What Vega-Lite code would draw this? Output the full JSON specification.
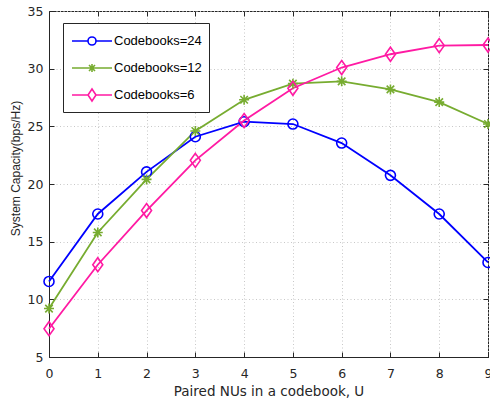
{
  "$schema": "https://vega.github.io/schema/vega-lite/v6.json",
  "width": 439,
  "height": 346,
  "autosize": {"type": "none"},
  "padding": {"left": 49, "top": 11, "right": 2, "bottom": 46},
  "background": "white",
  "config": {
    "view": {"stroke": "#262626", "strokeWidth": 1},
    "font": "Liberation Sans",
    "axis": {
      "labelFont": "DejaVu Sans",
      "titleFont": "DejaVu Sans",
      "labelFontSize": 12.5,
      "titleFontSize": 13.5,
      "titleFontWeight": "normal",
      "labelColor": "#262626",
      "titleColor": "#262626",
      "domainColor": "#262626",
      "tickColor": "#262626",
      "gridColor": "#c8c8c8",
      "gridDash": [1, 2.5],
      "gridWidth": 1
    },
    "legend": {
      "orient": "none",
      "padding": 7,
      "strokeColor": "#262626",
      "fillColor": "white",
      "symbolSize": 400,
      "symbolOffset": 11,
      "labelOffset": 11,
      "rowPadding": 8,
      "labelFont": "Liberation Sans",
      "labelFontSize": 13,
      "labelColor": "#000000",
      "symbolStrokeWidth": 1.6,
      "symbolOpacity": 1
    }
  },
  "data": {
    "values": [
      {"U": 0, "cap": 11.55, "series": "Codebooks=24"},
      {"U": 1, "cap": 17.4, "series": "Codebooks=24"},
      {"U": 2, "cap": 21.05, "series": "Codebooks=24"},
      {"U": 3, "cap": 24.1, "series": "Codebooks=24"},
      {"U": 4, "cap": 25.4, "series": "Codebooks=24"},
      {"U": 5, "cap": 25.2, "series": "Codebooks=24"},
      {"U": 6, "cap": 23.55, "series": "Codebooks=24"},
      {"U": 7, "cap": 20.75, "series": "Codebooks=24"},
      {"U": 8, "cap": 17.4, "series": "Codebooks=24"},
      {"U": 9, "cap": 13.2, "series": "Codebooks=24"},
      {"U": 0, "cap": 9.2, "series": "Codebooks=12"},
      {"U": 1, "cap": 15.8, "series": "Codebooks=12"},
      {"U": 2, "cap": 20.4, "series": "Codebooks=12"},
      {"U": 3, "cap": 24.6, "series": "Codebooks=12"},
      {"U": 4, "cap": 27.3, "series": "Codebooks=12"},
      {"U": 5, "cap": 28.7, "series": "Codebooks=12"},
      {"U": 6, "cap": 28.9, "series": "Codebooks=12"},
      {"U": 7, "cap": 28.2, "series": "Codebooks=12"},
      {"U": 8, "cap": 27.1, "series": "Codebooks=12"},
      {"U": 9, "cap": 25.2, "series": "Codebooks=12"},
      {"U": 0, "cap": 7.45, "series": "Codebooks=6"},
      {"U": 1, "cap": 13.0, "series": "Codebooks=6"},
      {"U": 2, "cap": 17.7, "series": "Codebooks=6"},
      {"U": 3, "cap": 22.05, "series": "Codebooks=6"},
      {"U": 4, "cap": 25.5, "series": "Codebooks=6"},
      {"U": 5, "cap": 28.3, "series": "Codebooks=6"},
      {"U": 6, "cap": 30.1, "series": "Codebooks=6"},
      {"U": 7, "cap": 31.25, "series": "Codebooks=6"},
      {"U": 8, "cap": 32.0, "series": "Codebooks=6"},
      {"U": 9, "cap": 32.05, "series": "Codebooks=6"}
    ]
  },
  "layer": [
    {
      "mark": {"type": "line", "strokeWidth": 1.8, "clip": false},
      "encoding": {
        "x": {
          "field": "U", "type": "quantitative",
          "scale": {"domain": [0, 9], "nice": false},
          "axis": {"orient": "bottom", "values": [0,1,2,3,4,5,6,7,8,9], "title": "Paired NUs in a codebook, U", "tickSize": -5, "labelPadding": 15, "titlePadding": 5, "grid": true, "labelFlush": false}
        },
        "y": {
          "field": "cap", "type": "quantitative",
          "scale": {"domain": [5, 35], "nice": false},
          "axis": {"orient": "left", "values": [5,10,15,20,25,30,35], "title": "System Capacity(bps/Hz)", "titleFont": "Liberation Sans", "titleFontSize": 12, "titleY": 157, "tickSize": -5, "labelPadding": 11, "titlePadding": 5, "grid": true}
        },
        "stroke": {
          "field": "series", "type": "nominal",
          "scale": {"domain": ["Codebooks=24", "Codebooks=12", "Codebooks=6"], "range": ["#0000ff", "#77ac30", "#ff1aa3"]},
          "legend": {"title": null, "orient": "none", "legendX": 14, "legendY": 12, "symbolOpacity": 1}
        }
      }
    },
    {
      "transform": [{"filter": "datum.series === 'Codebooks=24'"}],
      "mark": {"type": "point", "shape": "circle", "filled": false, "strokeWidth": 1.6, "size": 100, "opacity": 1, "clip": false},
      "encoding": {
        "x": {
          "field": "U", "type": "quantitative",
          "scale": {"domain": [0, 9], "nice": false},
          "axis": {"orient": "top", "values": [0,1,2,3,4,5,6,7,8,9], "title": null, "labels": false, "domain": false, "grid": false, "tickSize": -5}
        },
        "y": {
          "field": "cap", "type": "quantitative",
          "scale": {"domain": [5, 35], "nice": false},
          "axis": {"orient": "right", "values": [5,10,15,20,25,30,35], "title": null, "labels": false, "domain": false, "grid": false, "tickSize": -5}
        },
        "stroke": {"field": "series", "type": "nominal", "legend": {"title": null, "orient": "none", "legendX": 14, "legendY": 12, "symbolOpacity": 1}}
      }
    },
    {
      "transform": [{"filter": "datum.series === 'Codebooks=12'"}],
      "mark": {"type": "point", "shape": "M-1,0H1M0,-1V1M-0.75,-0.75L0.75,0.75M-0.75,0.75L0.75,-0.75", "filled": false, "strokeWidth": 1.6, "size": 100, "opacity": 1, "clip": false},
      "encoding": {
        "x": {"field": "U", "type": "quantitative", "scale": {"domain": [0, 9], "nice": false}, "axis": null},
        "y": {"field": "cap", "type": "quantitative", "scale": {"domain": [5, 35], "nice": false}, "axis": null},
        "stroke": {"field": "series", "type": "nominal", "legend": {"title": null, "orient": "none", "legendX": 14, "legendY": 12, "symbolOpacity": 1}}
      }
    },
    {
      "transform": [{"filter": "datum.series === 'Codebooks=6'"}],
      "mark": {"type": "point", "shape": "M0,-1.4L1,0L0,1.4L-1,0Z", "filled": false, "strokeWidth": 1.6, "size": 100, "opacity": 1, "clip": false},
      "encoding": {
        "x": {"field": "U", "type": "quantitative", "scale": {"domain": [0, 9], "nice": false}, "axis": null},
        "y": {"field": "cap", "type": "quantitative", "scale": {"domain": [5, 35], "nice": false}, "axis": null},
        "stroke": {"field": "series", "type": "nominal", "legend": {"title": null, "orient": "none", "legendX": 14, "legendY": 12, "symbolOpacity": 1}}
      }
    },
    {
      "mark": {"type": "point", "filled": false, "strokeWidth": 1.6, "size": 400, "opacity": 0, "clip": false},
      "encoding": {
        "x": {"field": "U", "type": "quantitative", "scale": {"domain": [0, 9], "nice": false}, "axis": null},
        "y": {"field": "cap", "type": "quantitative", "scale": {"domain": [5, 35], "nice": false}, "axis": null},
        "stroke": {"field": "series", "type": "nominal", "legend": {"title": null, "orient": "none", "legendX": 14, "legendY": 12, "symbolOpacity": 1}},
        "shape": {
          "field": "series", "type": "nominal",
          "scale": {"domain": ["Codebooks=24", "Codebooks=12", "Codebooks=6"], "range": ["M-2,0H-0.4M0.4,0H2M0.4,0A0.4,0.4 0 1,1 -0.4,0A0.4,0.4 0 1,1 0.4,0", "M-2,0H2M0,-0.4V0.4M-0.3,-0.3L0.3,0.3M-0.3,0.3L0.3,-0.3", "M-2,0H-0.4M0.4,0H2M0,-0.6L0.4,0L0,0.6L-0.4,0Z"]},
          "legend": {"title": null, "orient": "none", "legendX": 14, "legendY": 12, "symbolOpacity": 1}
        }
      }
    }
  ],
  "resolve": {
    "axis": {"x": "independent", "y": "independent"}
  }
}
